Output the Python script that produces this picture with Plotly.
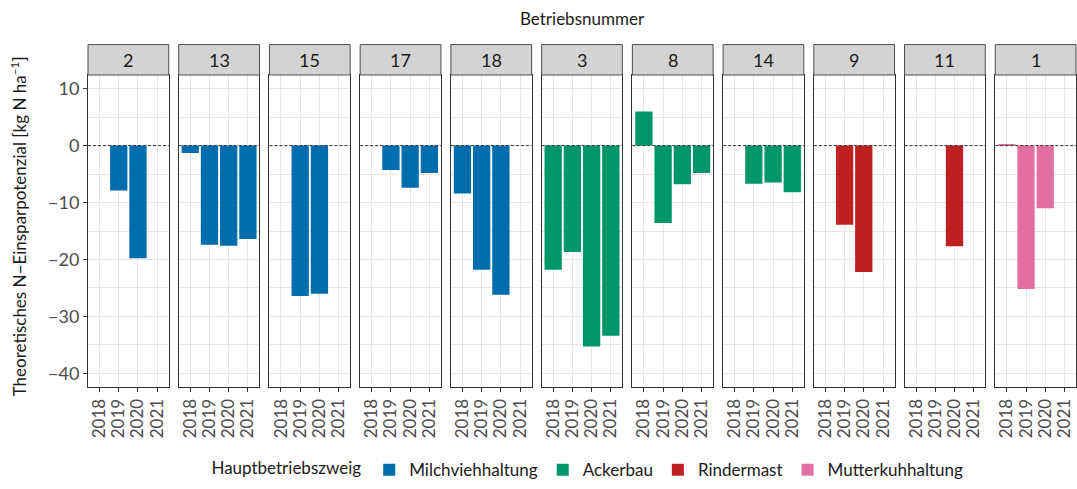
import plotly.graph_objects as go
from plotly.subplots import make_subplots

# Betriebe in facet order, with their main branch
betriebe = ["2", "13", "15", "17", "18", "3", "8", "14", "9", "11", "1"]
zweig = ["Milchviehhaltung"] * 5 + ["Ackerbau"] * 3 + ["Rindermast"] * 2 + ["Mutterkuhhaltung"]
jahre = ["2018", "2019", "2020", "2021"]

# theoretical N saving potential [kg N/ha] per year, one entry per Betrieb (None = no data)
n_2018 = [None, -1.3, None, None, -8.4, -21.8, 6.0, None, None, None, 0.3]
n_2019 = [-7.9, -17.4, -26.4, -4.3, -21.8, -18.7, -13.6, -6.7, -13.9, None, -25.2]
n_2020 = [-19.8, -17.6, -26.0, -7.4, -26.2, -35.3, -6.8, -6.5, -22.2, -17.7, -11.0]
n_2021 = [None, -16.4, None, -4.8, None, -33.4, -4.8, -8.2, None, None, None]

ZWEIG_ORDER = ["Milchviehhaltung", "Ackerbau", "Rindermast", "Mutterkuhhaltung"]
ZWEIG_COLORS = {
    "Milchviehhaltung": "#006DAF",
    "Ackerbau": "#00966A",
    "Rindermast": "#BE2023",
    "Mutterkuhhaltung": "#E170A0",
}
FONT = "Lato, Open Sans, Noto Sans, sans-serif"
TEXT_COLOR = "#4D4D4D"
GRID_COLOR = "#EBE6E4"
Y_RANGE = [-42.4, 12.4]

n_panels = len(betriebe)
fig = make_subplots(rows=1, cols=n_panels, shared_yaxes=True, horizontal_spacing=10 / 988)

shown = set()
for i, betrieb in enumerate(betriebe):
    vals = [n_2018[i], n_2019[i], n_2020[i], n_2021[i]]
    xs = [j for j, v in zip(jahre, vals) if v is not None]
    ys = [v for v in vals if v is not None]
    z = zweig[i]
    fig.add_trace(
        go.Bar(
            x=xs,
            y=ys,
            name=z,
            legendgroup=z,
            showlegend=z not in shown,
            marker=dict(color=ZWEIG_COLORS[z], line=dict(width=0)),
            width=0.9,
            legendrank=ZWEIG_ORDER.index(z),
        ),
        row=1,
        col=i + 1,
    )
    shown.add(z)

    ax = "x" if i == 0 else f"x{i + 1}"
    # facet strip
    fig.add_shape(
        type="rect", xref=f"{ax} domain", yref="paper",
        x0=0, x1=1, y0=1.0, y1=1 + 31 / 318,
        fillcolor="#D3D3D3", line=dict(color="#4D4D4D", width=1), layer="above",
    )
    fig.add_annotation(
        text=betrieb, xref=f"{ax} domain", yref="paper",
        x=0.5, y=1 + 15.5 / 318, xanchor="center", yanchor="middle", showarrow=False,
        font=dict(family=FONT, size=18, color="#1A1A1A"),
    )
    # dashed zero line
    fig.add_shape(
        type="line", xref=f"{ax} domain", yref="y",
        x0=0, x1=1, y0=0, y1=0,
        line=dict(color="#333333", width=1, dash="3px,2px"), layer="above",
    )

fig.update_xaxes(
    type="category",
    categoryorder="array",
    categoryarray=jahre,
    tickmode="array",
    tickvals=jahre,
    ticktext=jahre,
    range=[-0.6, 3.6],
    tickangle=-90,
    ticks="outside",
    ticklen=4,
    tickcolor="#333333",
    showgrid=True,
    gridcolor=GRID_COLOR,
    gridwidth=1.3,
    showline=True,
    mirror=True,
    linecolor="#333333",
    linewidth=1,
    tickfont=dict(family=FONT, size=17, color=TEXT_COLOR),
    fixedrange=True,
)
fig.update_yaxes(
    range=Y_RANGE,
    dtick=10,
    tick0=0,
    showgrid=True,
    gridcolor=GRID_COLOR,
    gridwidth=1.3,
    minor=dict(dtick=5, tick0=0, showgrid=True, gridcolor=GRID_COLOR, gridwidth=1.3),
    zeroline=False,
    showline=True,
    mirror=True,
    linecolor="#333333",
    linewidth=1,
    tickfont=dict(family=FONT, size=18, color=TEXT_COLOR),
    fixedrange=True,
)
fig.update_yaxes(ticks="outside", ticklen=4, tickcolor="#333333", tickformat="d", row=1, col=1)

fig.add_annotation(
    text="Betriebsnummer", xref="paper", yref="paper",
    x=0.5, y=1 + 58 / 318, xanchor="center", yanchor="middle", showarrow=False,
    font=dict(family=FONT, size=17, color="#1A1A1A"),
)
fig.add_annotation(
    text="Theoretisches N\u2212Einsparpotenzial [kg N ha<sup>\u22121</sup>]",
    xref="paper", yref="paper", x=-70 / 988, y=0.515,
    xanchor="center", yanchor="middle",
    textangle=-90, showarrow=False,
    font=dict(family=FONT, size=17, color="#1A1A1A"),
)

fig.update_layout(
    width=1077,
    height=489,
    margin=dict(l=88, r=1, t=75, b=96),
    paper_bgcolor="white",
    plot_bgcolor="white",
    barmode="overlay",
    font=dict(family=FONT, color="#1A1A1A"),
    legend=dict(
        orientation="h",
        x=0.507,
        xanchor="center",
        y=-0.267,
        yanchor="middle",
        title=dict(text="Hauptbetriebszweig", side="left", font=dict(family=FONT, size=17, color="#1A1A1A")),
        font=dict(family=FONT, size=17, color="#1A1A1A"),
        itemsizing="constant",
        traceorder="normal",
    ),
)

# drop the default page margin so the figure sits flush in the window
fig.write_html(
    "out.html",
    config={"displayModeBar": False},
    post_script="document.body.style.margin='0px';",
)
